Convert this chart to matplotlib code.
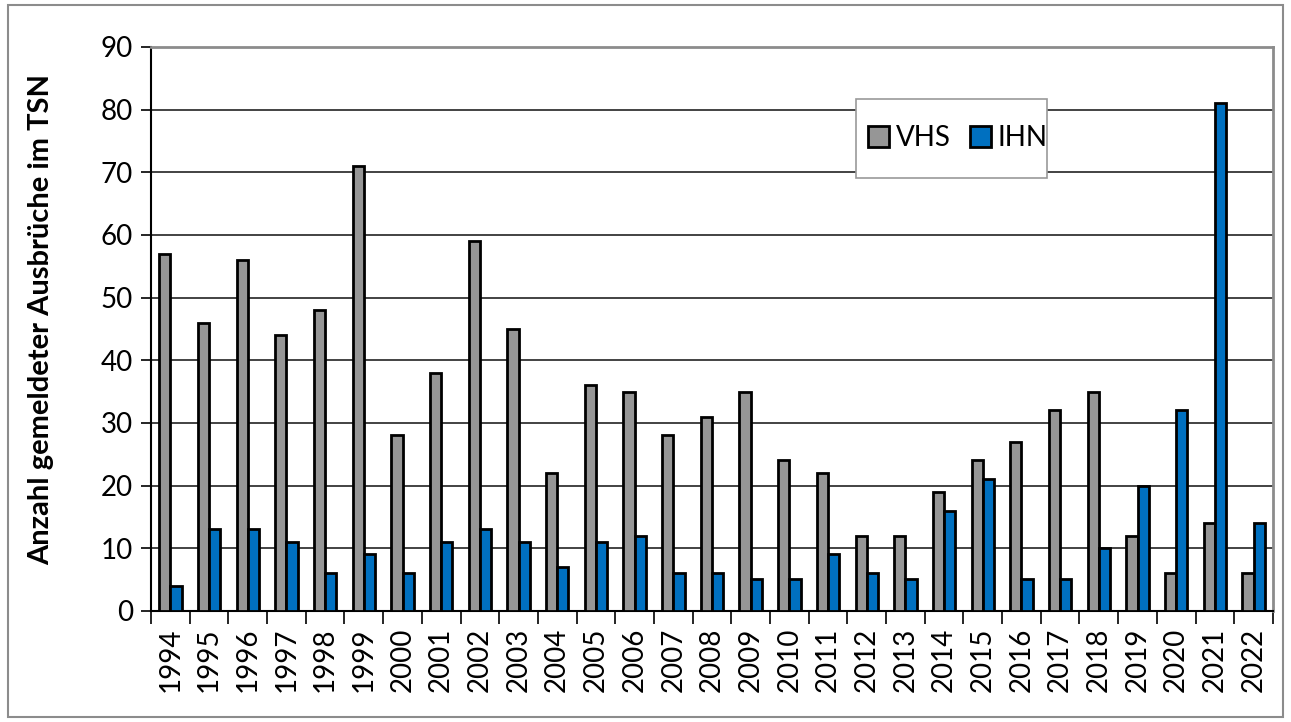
import matplotlib.pyplot as plt
import numpy as np
from matplotlib.patches import Rectangle

plt.rcParams['font.family'] = ['Lato', 'DejaVu Sans']

# Daten
years = [str(y) for y in range(1994, 2023)]
vhs = [57, 46, 56, 44, 48, 71, 28, 38, 59, 45, 22, 36, 35, 28, 31, 35, 24, 22,
       12, 12, 19, 24, 27, 32, 35, 12, 6, 14, 6]
ihn = [4, 13, 13, 11, 6, 9, 6, 11, 13, 11, 7, 11, 12, 6, 6, 5, 5, 9, 6, 5, 16,
       21, 5, 5, 10, 20, 32, 81, 14]

fig = plt.figure(figsize=(12.91, 7.22), dpi=100)
ax = fig.add_axes([0.117, 0.154, 0.869, 0.781])

x = np.arange(len(years))
w = 0.29
ax.bar(x - w / 2, vhs, w, color='#969696', edgecolor='black', linewidth=2, label='VHS', zorder=3)
ax.bar(x + w / 2, ihn, w, color='#0070C0', edgecolor='black', linewidth=2, label='IHN', zorder=3)

ax.set_xlim(-0.5, len(years) - 0.5)
ax.set_ylim(0, 90)
ax.set_yticks(range(0, 91, 10))
ax.yaxis.grid(True, color='#222222', linewidth=1.2, zorder=0)

ax.set_xticks(x)
ax.set_xticklabels(years, rotation=90, fontsize=20)
ax.tick_params(axis='x', length=0, pad=12)
ax.set_xticks(np.arange(-0.5, len(years)), minor=True)
ax.tick_params(axis='x', which='minor', length=9, width=1.2, color='black')
ax.tick_params(axis='y', labelsize=20, length=7, width=1.2, pad=6)

for s in ['top', 'right']:
    ax.spines[s].set_color('#8c8c8c')
    ax.spines[s].set_linewidth(2)
for s in ['left', 'bottom']:
    ax.spines[s].set_color('black')
    ax.spines[s].set_linewidth(1.5)

ax.set_ylabel('Anzahl gemeldeter Ausbrüche im TSN', fontsize=21, fontweight='bold')
ax.yaxis.set_label_coords(-0.086, 0.516)

# Legendenrahmen
ax.add_patch(Rectangle((0.628, 0.768), 0.171, 0.14, transform=ax.transAxes,
                       facecolor='white', edgecolor='#999999', linewidth=1.2, zorder=4))
leg = ax.legend(loc='center', bbox_to_anchor=(0.719, 0.838), ncol=2, fontsize=20,
                frameon=False, handlelength=0.75, handleheight=0.75, handletextpad=0.25,
                columnspacing=0.7)
leg.set_zorder(5)

fig.patches.append(Rectangle((0.006, 0.007), 0.988, 0.986, transform=fig.transFigure,
                             fill=False, edgecolor='#8c8c8c', linewidth=1.5))

fig.savefig('out.png', dpi=100)
